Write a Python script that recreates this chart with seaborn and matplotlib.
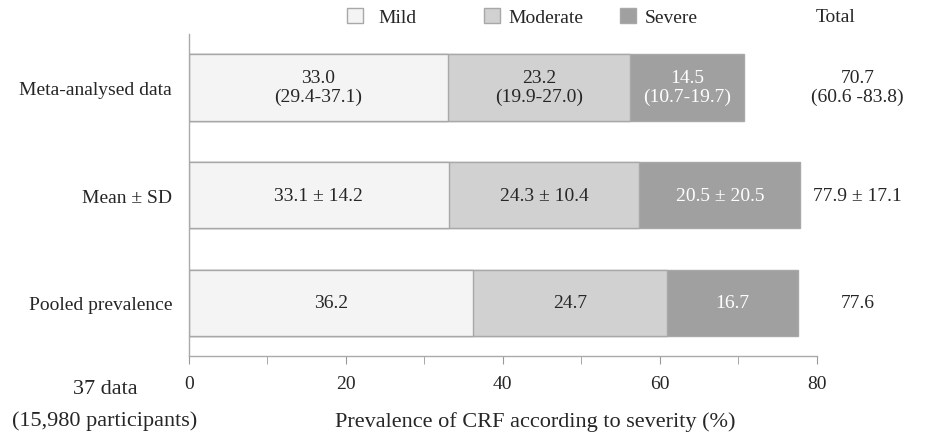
import matplotlib
matplotlib.use("Agg")
import matplotlib.pyplot as plt
import matplotlib.patches as mpatches
import pandas as pd
import seaborn as sb

rows = ['Meta-analysed data', 'Mean ± SD', 'Pooled prevalence']
mild = [33.0, 33.1, 36.2]
moderate = [23.2, 24.3, 24.7]
severe = [14.5, 20.5, 16.7]

mild_labels = ['33.0\n(29.4-37.1)', '33.1 ± 14.2', '36.2']
moderate_labels = ['23.2\n(19.9-27.0)', '24.3 ± 10.4', '24.7']
severe_labels = ['14.5\n(10.7-19.7)', '20.5 ± 20.5', '16.7']
total_labels = ['70.7\n(60.6 -83.8)', '77.9 ± 17.1', '77.6']

colors = {'Mild': '#f3f4f3', 'Moderate': '#d0d1d0', 'Severe': '#a0a0a0'}
edge = '#a8a8a8'

sb.set_style("white")
plt.rcParams['font.family'] = ['Liberation Serif', 'DejaVu Serif']
plt.rcParams['font.size'] = 14

df = pd.DataFrame({'Row': rows, 'Mild': mild, 'Moderate': moderate, 'Severe': severe})
df['c2'] = df['Mild'] + df['Moderate']
df['c3'] = df['c2'] + df['Severe']

fig = plt.figure(figsize=(9.26, 4.39), dpi=100)
ax = fig.add_axes([0.204, 0.187, 0.678, 0.733])

# stacked bars drawn as cumulative totals, largest first
for col, name in [('c3', 'Severe'), ('c2', 'Moderate'), ('Mild', 'Mild')]:
    sb.barplot(data=df, x=col, y='Row', orient='h', color=colors[name],
               edgecolor=edge, linewidth=1, width=0.62, saturation=1, ax=ax)

for i in range(len(rows)):
    ax.text(mild[i] / 2, i, mild_labels[i], ha='center', va='center',
            fontsize=14, linespacing=1.15)
    ax.text(mild[i] + moderate[i] / 2, i, moderate_labels[i], ha='center',
            va='center', fontsize=14, linespacing=1.15)
    ax.text(mild[i] + moderate[i] + severe[i] / 2, i, severe_labels[i],
            ha='center', va='center', fontsize=14, color='white', linespacing=1.15)
    ax.text(85.2, i, total_labels[i], ha='center', va='center', fontsize=14,
            linespacing=1.15, clip_on=False)

ax.text(82.4, -0.65, 'Total', ha='center', va='center', fontsize=14, clip_on=False)

ax.set_xlim(0, 80)
ax.set_ylim(2.49, -0.49)
ax.set_xticks([0, 20, 40, 60, 80])
ax.set_xticks([10, 30, 50, 70], minor=True)
ax.tick_params(axis='x', which='both', direction='out', length=6, color='#999999',
               bottom=True, labelsize=14, pad=8)
ax.tick_params(axis='y', length=0, labelsize=14, pad=12)
ax.set_ylabel('')
ax.set_xlabel('')

for s in ['top', 'right']:
    ax.spines[s].set_visible(False)
for s in ['left', 'bottom']:
    ax.spines[s].set_color('#aaaaaa')
    ax.spines[s].set_linewidth(1)

# legend entries spaced evenly above the plot
for name, xpos, pad in [('Mild', 347, 0.8), ('Moderate', 484, 0.45), ('Severe', 620, 0.45)]:
    h = mpatches.Patch(facecolor=colors[name], edgecolor=edge, label=name)
    fig.legend(handles=[h], loc='center left', bbox_to_anchor=(xpos / 926, 1 - 18 / 439),
               frameon=False, handlelength=0.8, handleheight=0.8, handletextpad=pad,
               borderpad=0, borderaxespad=0, fontsize=14)

fig.text(535 / 926, 1 - 422 / 439, 'Prevalence of CRF according to severity (%)',
         ha='center', va='center', fontsize=16)
fig.text(105 / 926, 1 - 390 / 439, '37 data', ha='center', va='center', fontsize=16)
fig.text(105 / 926, 1 - 421 / 439, '(15,980 participants)', ha='center', va='center', fontsize=16)

fig.savefig('out.png', dpi=100)
